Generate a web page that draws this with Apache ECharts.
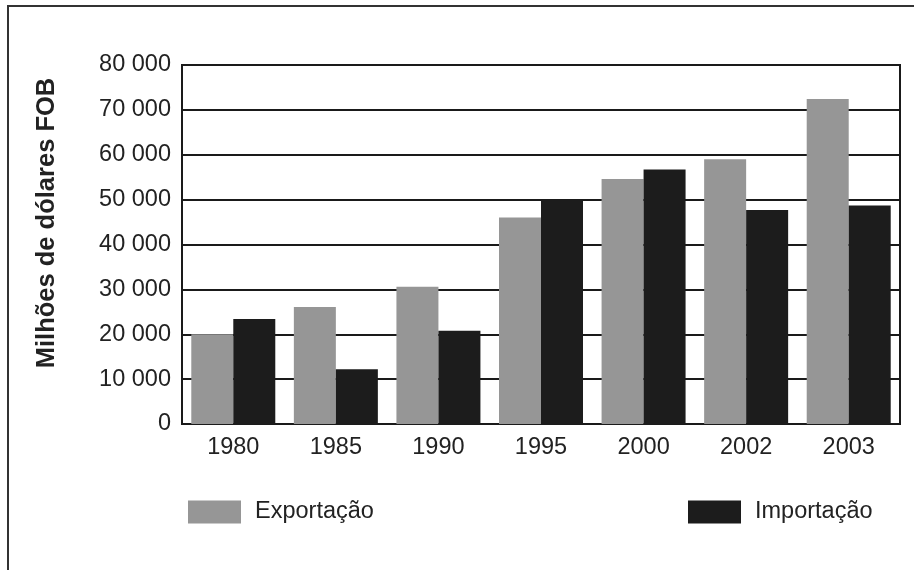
<!DOCTYPE html>
<html>
<head>
<meta charset="utf-8">
<script src="https://cdn.jsdelivr.net/npm/echarts@6/dist/echarts.min.js"></script>
<style>
html,body{margin:0;padding:0;background:#fff;overflow:hidden;}
#frame{position:absolute;left:7px;top:5px;width:930px;height:600px;border:2px solid #333;box-sizing:border-box;}
#c{position:absolute;left:0;top:0;width:914px;height:570px;}
</style>
</head>
<body>
<div id="frame"></div>
<div id="c"></div>
<script>
const categories = ['1980','1985','1990','1995','2000','2002','2003'];
const exportacao = [20000, 26100, 30600, 46000, 54600, 59000, 72400];
const importacao = [23400, 12200, 20800, 50000, 56700, 47700, 48700];
const seriesNames = ['Exportação','Importação'];
const yTitle = 'Milhões de dólares FOB';
const yTicks = {min:0, max:80000, interval:10000};

const font = 'Liberation Sans, Arial, sans-serif';
const chart = echarts.init(document.getElementById('c'));
chart.setOption({
  animation:false,
  backgroundColor:'transparent',
  grid:{left:182,right:14,top:65,bottom:146,show:true,borderColor:'#1a1a1a',borderWidth:2,backgroundColor:'transparent'},
  graphic:[{type:'text',x:47,y:223,rotation:Math.PI/2,
    style:{text:yTitle,fontFamily:font,fontSize:25.5,fontWeight:'bold',fill:'#222',align:'center',verticalAlign:'middle'}}],
  legend:[
    {data:[seriesNames[0]],left:188,top:500,padding:0,itemWidth:53,itemHeight:23,icon:'rect',
     textStyle:{fontFamily:font,fontSize:23.5,color:'#222',padding:[0,0,0,9]}},
    {data:[seriesNames[1]],left:688,top:500,padding:0,itemWidth:53,itemHeight:23,icon:'rect',
     textStyle:{fontFamily:font,fontSize:23.5,color:'#222',padding:[0,0,0,9]}}
  ],
  xAxis:{type:'category',data:categories,
    axisLine:{lineStyle:{color:'#1a1a1a',width:2}},
    axisTick:{alignWithLabel:true,length:9,lineStyle:{color:'#1a1a1a',width:2}},
    axisLabel:{fontFamily:font,fontSize:23.5,color:'#222',margin:12}},
  yAxis:{type:'value',min:yTicks.min,max:yTicks.max,interval:yTicks.interval,
    axisLine:{show:true,lineStyle:{color:'#1a1a1a',width:2}},
    axisTick:{show:false},
    splitLine:{lineStyle:{color:'#1a1a1a',width:2}},
    axisLabel:{fontFamily:font,fontSize:23.5,color:'#222',margin:11,
      formatter:v=>v===0?'0':String(v).replace(/\B(?=(\d{3})+(?!\d))/g,' ')}},
  series:[
    {name:seriesNames[0],type:'bar',data:exportacao,barWidth:42,barGap:'0%',itemStyle:{color:'#969696'}},
    {name:seriesNames[1],type:'bar',data:importacao,barWidth:42,barGap:'0%',itemStyle:{color:'#1c1c1c'}}
  ]
});
</script>
</body>
</html>
